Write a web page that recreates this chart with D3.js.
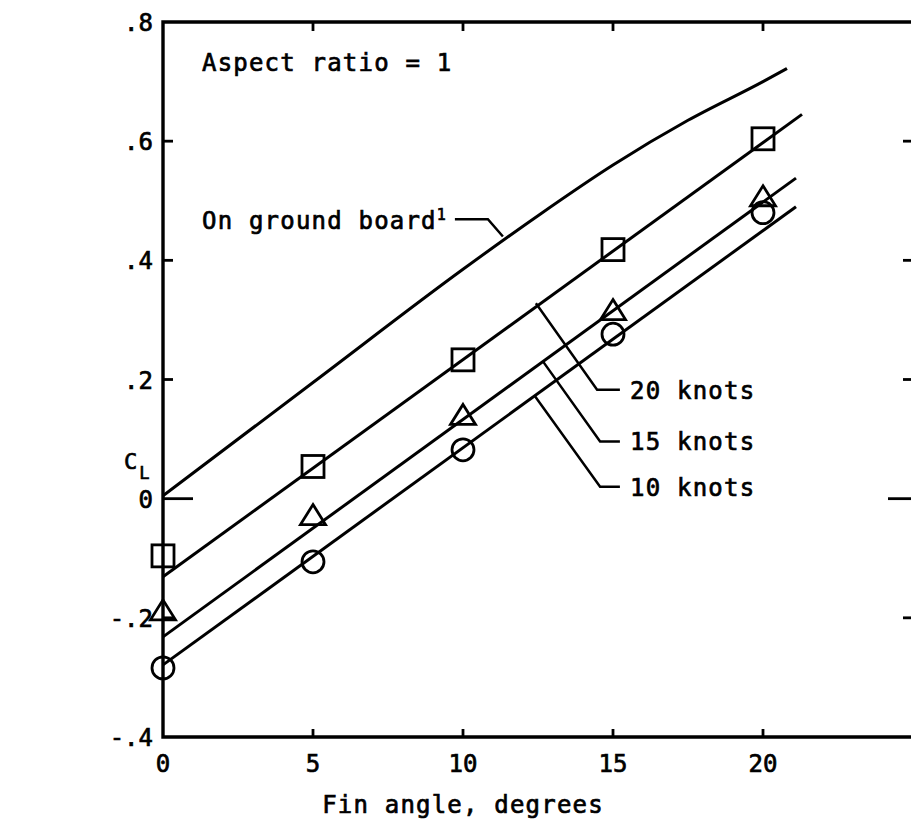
<!DOCTYPE html>
<html>
  <head>
    <meta charset="utf-8">
    <title>Lift coefficient vs fin angle</title>
    <script src="https://d3js.org/d3.v7.min.js"></script>
    <style>
      body { margin: 0; background: #fff; }
      text { font-family: "DejaVu Sans Mono", monospace; fill: #000; stroke: #000; stroke-width: 0.7px; }
      .axis { stroke: #000; stroke-width: 3.4; fill: none; }
      .tick { stroke: #000; stroke-width: 2.8; }
      .curve { stroke: #000; stroke-width: 3; fill: none; }
      .leader { stroke: #000; stroke-width: 2.5; fill: none; }
      .marker { stroke: #000; stroke-width: 2.8; fill: none; }
    </style>
  </head>
  <body>
    <svg id="chart" width="911" height="820"></svg>
    <script>
      // measured points, fin angle (deg) vs CL
      var angles = [0, 5, 10, 15, 20];
      var cl20 = [-0.096, 0.054, 0.233, 0.418, 0.604];
      var cl15 = [-0.19, -0.03, 0.138, 0.314, 0.505];
      var cl10 = [-0.284, -0.106, 0.082, 0.276, 0.48];
      // faired lines
      var fit20 = [[0, -0.131], [21.3, 0.645]];
      var fit15 = [[0, -0.232], [21.1, 0.538]];
      var fit10 = [[0, -0.279], [21.1, 0.49]];
      var groundBoard = [[0, 0.005], [5, 0.195], [10, 0.385], [12.5, 0.475], [15, 0.56], [17.5, 0.635], [20, 0.70], [20.8, 0.722]];
      // axis ticks
      var xTicks = [0, 5, 10, 15, 20];
      var yTicks = [-0.4, -0.2, 0, 0.2, 0.4, 0.6, 0.8];
      var yTickLabels = ["-.4", "-.2", "0", ".2", ".4", ".6", ".8"];
      // labels and their leader lines (data units)
      var knotLabels = ["20 knots", "15 knots", "10 knots"];
      var knotLeaders = [
        [[12.43, 0.328], [14.47, 0.183], [15.23, 0.183]],
        [[12.67, 0.23], [14.57, 0.096], [15.23, 0.096]],
        [[12.4, 0.172], [14.57, 0.02], [15.23, 0.02]]
      ];
      var knotTextY = [0.168, 0.081, 0.005];
      var groundLeader = [[9.73, 0.469], [10.83, 0.469], [11.33, 0.44]];

      var svg = d3.select("#chart");
      var x = d3.scaleLinear().domain([0, 25]).range([163, 913]);
      var y = d3.scaleLinear().domain([-0.4, 0.8]).range([737, 22]);
      var line = d3.line()
        .x(function(d) { return x(d[0]); })
        .y(function(d) { return y(d[1]); });

      // frame
      svg.append("path")
        .attr("class", "axis")
        .attr("d", "M" + x(25) + "," + y(0.8) + "H" + x(0) + "V" + y(-0.4) + "H" + x(25) + "Z");

      // inner ticks
      svg.selectAll(".ytickL")
        .data(yTicks.slice(1, -1))
        .enter().append("line")
          .attr("class", "tick")
          .attr("x1", x(0))
          .attr("x2", function(d) { return x(0) + (d === 0 ? 30 : 10); })
          .attr("y1", y)
          .attr("y2", y);
      svg.selectAll(".ytickR")
        .data(yTicks.slice(1, -1))
        .enter().append("line")
          .attr("class", "tick")
          .attr("x1", x(25))
          .attr("x2", function(d) { return x(25) - (d === 0 ? 25 : 10); })
          .attr("y1", y)
          .attr("y2", y);
      svg.selectAll(".xtickB")
        .data(xTicks.slice(1))
        .enter().append("line")
          .attr("class", "tick")
          .attr("x1", x)
          .attr("x2", x)
          .attr("y1", y(-0.4))
          .attr("y2", y(-0.4) - 8);
      svg.selectAll(".xtickT")
        .data(xTicks.slice(1))
        .enter().append("line")
          .attr("class", "tick")
          .attr("x1", x)
          .attr("x2", x)
          .attr("y1", y(0.8))
          .attr("y2", y(0.8) + 9);

      // tick labels
      svg.selectAll(".ylabel")
        .data(yTicks)
        .enter().append("text")
          .attr("x", x(0) - 10)
          .attr("y", function(d) { return y(d) + 9; })
          .attr("text-anchor", "end")
          .style("font-size", "24px")
          .text(function(d, i) { return yTickLabels[i]; });
      svg.selectAll(".xlabel")
        .data(xTicks)
        .enter().append("text")
          .attr("x", x)
          .attr("y", y(-0.4) + 35)
          .attr("text-anchor", "middle")
          .style("font-size", "24px")
          .text(function(d) { return d; });

      // axis titles
      svg.append("text")
        .attr("x", x(10))
        .attr("y", 813)
        .attr("text-anchor", "middle")
        .style("font-size", "24px")
        .style("letter-spacing", "1.2px")
        .text("Fin angle, degrees");
      var cl = svg.append("text")
        .attr("x", 124)
        .attr("y", 469)
        .style("font-size", "22px");
      cl.append("tspan").text("C");
      cl.append("tspan").attr("dx", 2).attr("dy", 10).style("font-size", "17px").text("L");

      // curves
      [fit20, fit15, fit10].forEach(function(f) {
        svg.append("path").attr("class", "curve").attr("d", line(f));
      });
      svg.append("path")
        .attr("class", "curve")
        .attr("d", line.curve(d3.curveMonotoneX)(groundBoard));
      line.curve(d3.curveLinear);

      // markers
      svg.selectAll(".sq")
        .data(angles)
        .enter().append("rect")
          .attr("class", "marker")
          .attr("x", function(d) { return x(d) - 11; })
          .attr("y", function(d, i) { return y(cl20[i]) - 11; })
          .attr("width", 22)
          .attr("height", 22);
      svg.selectAll(".tri")
        .data(angles)
        .enter().append("path")
          .attr("class", "marker")
          .attr("d", function(d, i) {
            var cx = x(d), cy = y(cl15[i]);
            return "M" + cx + "," + (cy - 12) + "L" + (cx + 12.5) + "," + (cy + 8) + "L" + (cx - 12.5) + "," + (cy + 8) + "Z";
          });
      svg.selectAll(".circ")
        .data(angles)
        .enter().append("circle")
          .attr("class", "marker")
          .attr("cx", x)
          .attr("cy", function(d, i) { return y(cl10[i]); })
          .attr("r", 11);

      // annotations
      svg.append("text")
        .attr("x", x(1.3))
        .attr("y", y(0.717))
        .style("font-size", "24px")
        .style("letter-spacing", "1.2px")
        .text("Aspect ratio = 1");
      var gb = svg.append("text")
        .attr("x", x(1.3))
        .attr("y", y(0.452))
        .style("font-size", "24px")
        .style("letter-spacing", "1.2px");
      gb.append("tspan").text("On ground board");
      gb.append("tspan").attr("dy", -9).style("font-size", "15px").text("1");
      svg.append("path").attr("class", "leader").attr("d", line(groundLeader));

      knotLeaders.forEach(function(l, i) {
        svg.append("path").attr("class", "leader").attr("d", line(l));
        svg.append("text")
          .attr("x", x(15.57))
          .attr("y", y(knotTextY[i]))
          .style("font-size", "24px")
          .style("letter-spacing", "1.2px")
          .text(knotLabels[i]);
      });
    </script>
  </body>
</html>
